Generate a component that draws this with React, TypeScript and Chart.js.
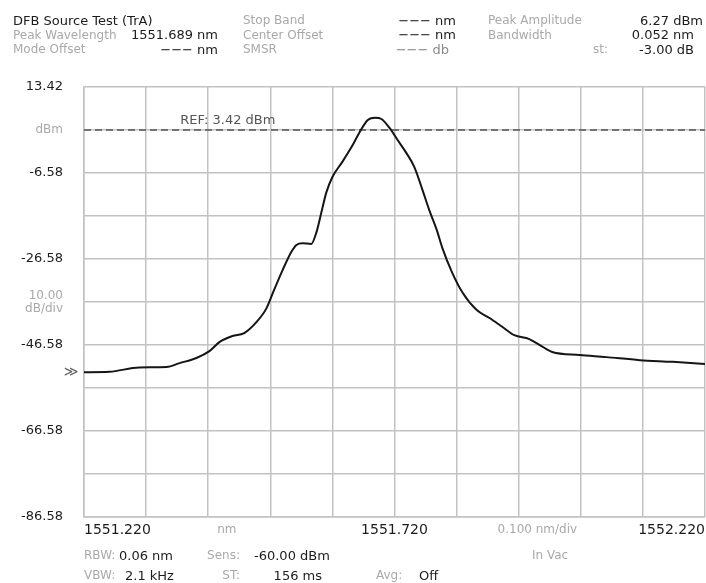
import React, { useEffect, useRef } from "react";
import { Chart, registerables } from "chart.js";

Chart.register(...registerables);

// ---- data ----
const WAVELENGTH_NM = [
  1551.22, 1551.261, 1551.309, 1551.353, 1551.374, 1551.401, 1551.422, 1551.438, 1551.459, 1551.478,
  1551.498, 1551.514, 1551.524, 1551.54, 1551.554, 1551.562, 1551.572, 1551.586, 1551.594, 1551.602,
  1551.61, 1551.62, 1551.636, 1551.651, 1551.664, 1551.677, 1551.689, 1551.699, 1551.712, 1551.725,
  1551.739, 1551.752, 1551.765, 1551.776, 1551.788, 1551.797, 1551.813, 1551.83, 1551.852, 1551.873,
  1551.894, 1551.913, 1551.937, 1551.954, 1551.974, 1552.018, 1552.061, 1552.115, 1552.168, 1552.22,
];
const POWER_DBM = [
  -52.9, -52.8, -51.8, -51.7, -50.8, -49.6, -48.0, -45.9, -44.5, -43.8,
  -41.2, -38.0, -34.5, -29.1, -24.9, -23.3, -22.9, -23.1, -20.5, -15.9,
  -11.2, -7.5, -4.0, -0.5, 2.95, 5.75, 6.27, 5.98, 3.9, 1.1,
  -1.9, -5.2, -10.5, -15.2, -19.8, -24.0, -29.8, -34.5, -38.4, -40.3,
  -42.4, -44.3, -45.2, -46.6, -48.2, -48.9, -49.4, -50.1, -50.5, -51.0,
];
const REF_LEVEL_DBM = 3.42;
const REF_LABEL = "REF: 3.42 dBm";

const X_TICKS = [1551.22, 1551.32, 1551.42, 1551.52, 1551.62, 1551.72, 1551.82, 1551.92, 1552.02, 1552.12, 1552.22];
const X_VALUE_LABELS = ["1551.220", "", "", "", "", "1551.720", "", "", "", "", "1552.220"];
const X_UNIT_LABEL_AT = [1551.45, 1551.95];
const X_UNIT_LABELS = ["nm", "0.100 nm/div"];

const Y_TICKS = [13.42, 3.42, -6.58, -16.58, -26.58, -36.58, -46.58, -56.58, -66.58, -76.58, -86.58];
const Y_VALUE_LABELS = ["13.42", "", "-6.58", "", "-26.58", "", "-46.58", "", "-66.58", "", "-86.58"];
const Y_UNIT_LABELS = ["", "dBm", "", "", "", "10.00\ndB/div", "", "", "", "", ""];

const HEADER_LABELS = ["DFB Source Test (TrA)", "Stop Band", "Peak Amplitude", "Peak Wavelength", "Center Offset", "Bandwidth", "Mode Offset", "SMSR", "st:"];
const HEADER_VALUES = ["\u2212\u2212\u2212 nm", "6.27 dBm", "1551.689 nm", "\u2212\u2212\u2212 nm", "0.052 nm", "\u2212\u2212\u2212 nm", "\u2212\u2212\u2212 db", "-3.00 dB"];
const FOOTER_LABELS = ["RBW:", "Sens:", "In Vac", "VBW:", "ST:", "Avg:"];
const FOOTER_VALUES = ["0.06 nm", "-60.00 dBm", "2.1 kHz", "156 ms", "Off"];

// ---- styles ----
const FONT = '"DejaVu Sans", Verdana, sans-serif';
const DARK = "#1c1c1c";
const GREY = "#a9a9a9";
const GRID = "#c2c2c2";

type Item = { text: string; x: number; y: number; color: string; size: number; align?: "left" | "right" };

function Txt({ it }: { it: Item }) {
  const style: React.CSSProperties = {
    position: "absolute",
    top: it.y - it.size / 2 - 1,
    fontSize: it.size,
    lineHeight: `${it.size + 2}px`,
    color: it.color,
    whiteSpace: "nowrap",
  };
  if (it.align === "right") style.right = 706 - it.x;
  else style.left = it.x;
  return <div style={style}>{it.text}</div>;
}

export default function App() {
  const ref = useRef<HTMLCanvasElement>(null);

  useEffect(() => {
    if (!ref.current) return;
    const labelsPlugin = {
      id: "osaLabels",
      afterDraw(chart: any) {
        const { ctx, scales } = chart;
        const xs = scales.x;
        const ys = scales.y;
        const area = chart.chartArea;
        ctx.save();
        ctx.textBaseline = "middle";
        // y labels
        ctx.textAlign = "right";
        Y_TICKS.forEach((v, i) => {
          const py = ys.getPixelForValue(v);
          if (Y_VALUE_LABELS[i]) {
            ctx.font = `13px ${FONT}`;
            ctx.fillStyle = DARK;
            ctx.fillText(Y_VALUE_LABELS[i], area.left - 21, py);
          }
          if (Y_UNIT_LABELS[i]) {
            ctx.font = `12px ${FONT}`;
            ctx.fillStyle = GREY;
            const lines = Y_UNIT_LABELS[i].split("\n");
            lines.forEach((ln, j) => ctx.fillText(ln, area.left - 21, py + (j - (lines.length - 1) / 2) * 13));
          }
        });
        // x labels
        const ly = area.bottom + 13;
        ctx.font = `14px ${FONT}`;
        X_TICKS.forEach((v, i) => {
          const t = X_VALUE_LABELS[i];
          if (!t) return;
          ctx.fillStyle = DARK;
          ctx.textAlign = i === 0 ? "left" : i === X_TICKS.length - 1 ? "right" : "center";
          ctx.fillText(t, xs.getPixelForValue(v), ly);
        });
        ctx.textAlign = "center";
        ctx.font = `12px ${FONT}`;
        ctx.fillStyle = GREY;
        X_UNIT_LABEL_AT.forEach((v, i) => ctx.fillText(X_UNIT_LABELS[i], xs.getPixelForValue(v), ly));
        // reference label
        ctx.textAlign = "left";
        ctx.font = `13px ${FONT}`;
        ctx.fillStyle = "#555";
        ctx.fillText(REF_LABEL, xs.getPixelForValue(1551.375), ys.getPixelForValue(REF_LEVEL_DBM) - 9);
        // trace level marker
        ctx.textAlign = "center";
        ctx.font = `14px ${FONT}`;
        ctx.fillStyle = "#666";
        ctx.fillText("\u226B", area.left - 13, ys.getPixelForValue(POWER_DBM[0]));
        ctx.restore();
      },
    };

    const chart = new Chart(ref.current, {
      type: "line",
      data: {
        datasets: [
          {
            data: WAVELENGTH_NM.map((x, i) => ({ x, y: POWER_DBM[i] })),
            borderColor: "#151515",
            borderWidth: 2,
            pointRadius: 0,
            cubicInterpolationMode: "monotone",
            fill: false,
          },
          {
            data: [
              { x: X_TICKS[0], y: REF_LEVEL_DBM },
              { x: X_TICKS[X_TICKS.length - 1], y: REF_LEVEL_DBM },
            ],
            borderColor: "#555",
            borderWidth: 1.5,
            borderDash: [7, 4],
            pointRadius: 0,
            fill: false,
          },
        ],
      },
      options: {
        responsive: false,
        animation: false,
        events: [],
        layout: { padding: { left: 84, top: 87, right: 1, bottom: 66 } },
        plugins: { legend: { display: false }, tooltip: { enabled: false } },
        scales: {
          x: {
            type: "linear",
            min: X_TICKS[0],
            max: X_TICKS[X_TICKS.length - 1],
            afterBuildTicks: (s: any) => {
              s.ticks = X_TICKS.map((value) => ({ value }));
            },
            ticks: { display: false },
            grid: { color: GRID, lineWidth: 1.5, drawTicks: false },
            border: { color: GRID, width: 1.5 },
          },
          y: {
            type: "linear",
            min: Y_TICKS[Y_TICKS.length - 1],
            max: Y_TICKS[0],
            afterBuildTicks: (s: any) => {
              s.ticks = Y_TICKS.map((value) => ({ value }));
            },
            ticks: { display: false },
            grid: { color: GRID, lineWidth: 1.5, drawTicks: false },
            border: { color: GRID, width: 1.5 },
          },
        },
      },
      plugins: [labelsPlugin],
    } as any);
    return () => chart.destroy();
  }, []);

  const V = 13;
  const L = 12;
  const header: Item[] = [
    { text: HEADER_LABELS[0], x: 13, y: 20, color: DARK, size: V },
    { text: HEADER_LABELS[1], x: 243, y: 20, color: GREY, size: L },
    { text: HEADER_VALUES[0], x: 456, y: 20, color: DARK, size: V, align: "right" },
    { text: HEADER_LABELS[2], x: 488, y: 20, color: GREY, size: L },
    { text: HEADER_VALUES[1], x: 703, y: 20, color: DARK, size: V, align: "right" },
    { text: HEADER_LABELS[3], x: 13, y: 34.5, color: GREY, size: L },
    { text: HEADER_VALUES[2], x: 218, y: 34.5, color: DARK, size: V, align: "right" },
    { text: HEADER_LABELS[4], x: 243, y: 34.5, color: GREY, size: L },
    { text: HEADER_VALUES[3], x: 456, y: 34.5, color: DARK, size: V, align: "right" },
    { text: HEADER_LABELS[5], x: 488, y: 34.5, color: GREY, size: L },
    { text: HEADER_VALUES[4], x: 694, y: 34.5, color: DARK, size: V, align: "right" },
    { text: HEADER_LABELS[6], x: 13, y: 49, color: GREY, size: L },
    { text: HEADER_VALUES[5], x: 218, y: 49, color: DARK, size: V, align: "right" },
    { text: HEADER_LABELS[7], x: 243, y: 49, color: GREY, size: L },
    { text: HEADER_VALUES[6], x: 449, y: 49, color: "#8a8a8a", size: V, align: "right" },
    { text: HEADER_LABELS[8], x: 593, y: 49, color: GREY, size: L },
    { text: HEADER_VALUES[7], x: 694, y: 49, color: DARK, size: V, align: "right" },
  ];
  const footer: Item[] = [
    { text: FOOTER_LABELS[0], x: 84, y: 555, color: GREY, size: L },
    { text: FOOTER_VALUES[0], x: 119, y: 555, color: DARK, size: V },
    { text: FOOTER_LABELS[1], x: 240, y: 555, color: GREY, size: L, align: "right" },
    { text: FOOTER_VALUES[1], x: 254, y: 555, color: DARK, size: V },
    { text: FOOTER_LABELS[2], x: 532, y: 555, color: GREY, size: L },
    { text: FOOTER_LABELS[3], x: 84, y: 575, color: GREY, size: L },
    { text: FOOTER_VALUES[2], x: 125, y: 575, color: DARK, size: V },
    { text: FOOTER_LABELS[4], x: 240, y: 575, color: GREY, size: L, align: "right" },
    { text: FOOTER_VALUES[3], x: 322, y: 575, color: DARK, size: V, align: "right" },
    { text: FOOTER_LABELS[5], x: 376, y: 575, color: GREY, size: L },
    { text: FOOTER_VALUES[4], x: 419, y: 575, color: DARK, size: V },
  ];

  return (
    <div
      style={{
        position: "fixed",
        left: 0,
        top: 0,
        width: 706,
        height: 583,
        background: "#fff",
        fontFamily: FONT,
        overflow: "hidden",
      }}
    >
      <canvas ref={ref} width={706} height={583} style={{ position: "absolute", left: 0, top: 0, width: 706, height: 583 }} />
      {header.map((it, i) => (
        <Txt key={"h" + i} it={it} />
      ))}
      {footer.map((it, i) => (
        <Txt key={"f" + i} it={it} />
      ))}
    </div>
  );
}
